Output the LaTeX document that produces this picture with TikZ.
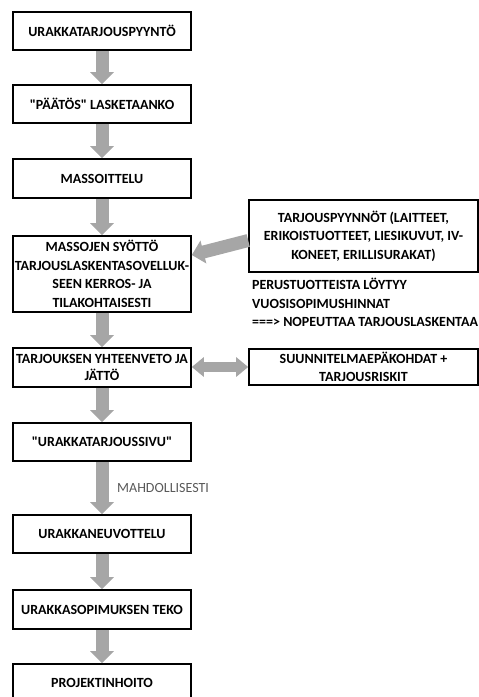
\documentclass[tikz,border=0pt]{standalone}
\usepackage{fontspec}
\setmainfont{Carlito}
\usetikzlibrary{arrows.meta}
\definecolor{arrgray}{RGB}{166,166,166}
\definecolor{txtgray}{RGB}{89,89,89}
\tikzset{
  lbox/.style={draw=black, line width=1.6pt, fill=white, minimum width=178pt, inner sep=0pt, align=center,
    font=\bfseries\fontsize{14}{18.5}\selectfont},
  rbox/.style={lbox, minimum width=229pt},
  flowarrow/.style={draw=arrgray, line width=13pt, -{Triangle[length=12pt,width=23pt]}},
  duoarrow/.style={draw=arrgray, line width=10pt, {Triangle[length=12pt,width=19pt]}-{Triangle[length=12pt,width=19pt]}},
}
\begin{document}
\begin{tikzpicture}[x=1pt,y=-1pt]
\useasboundingbox (0,0) rectangle (479,697);
\node[lbox, minimum height=38pt] (b1) at (102,31) {URAKKATARJOUSPYYNTÖ};
\node[lbox, minimum height=38pt] (b2) at (102,104) {\textquotedbl PÄÄTÖS\textquotedbl{} LASKETAANKO};
\node[lbox, minimum height=39pt] (b3) at (102,178.5) {MASSOITTELU};
\node[lbox, minimum height=76pt] (b4) at (102,274) {MASSOJEN SYÖTTÖ\\TARJOUSLASKENTASOVELLUK-\\SEEN KERROS- JA\\TILAKOHTAISESTI};
\node[lbox, minimum height=39pt, font=\bfseries\fontsize{14}{17.5}\selectfont] (b5) at (102,367.5) {TARJOUKSEN YHTEENVETO JA\\JÄTTÖ};
\node[lbox, minimum height=38pt] (b6) at (102,442) {\textquotedbl URAKKATARJOUSSIVU\textquotedbl};
\node[lbox, minimum height=38pt] (b7) at (102,534) {URAKKANEUVOTTELU};
\node[lbox, minimum height=39pt] (b8) at (102,609.5) {URAKKASOPIMUKSEN TEKO};
\node[lbox, minimum height=38pt] (b9) at (102,683) {PROJEKTINHOITO};
\node[rbox, minimum height=72pt] (r1) at (363.5,236) {TARJOUSPYYNNÖT (LAITTEET,\\ERIKOISTUOTTEET, LIESIKUVUT, IV-\\KONEET, ERILLISURAKAT)};
\node[rbox, minimum height=36pt, font=\bfseries\fontsize{14}{17.5}\selectfont] (r2) at (363.5,367) {SUUNNITELMAEPÄKOHDAT +\\TARJOUSRISKIT};
\node[anchor=north west, inner sep=0pt, align=left, font=\bfseries\fontsize{14}{18.5}\selectfont] (note) at (252,278)
  {PERUSTUOTTEISTA LÖYTYY\\VUOSISOPIMUSHINNAT\\===> NOPEUTTAA TARJOUSLASKENTAA};
\node[anchor=west, inner sep=0pt, text=txtgray, font=\fontsize{14}{16}\selectfont] (mahd) at (117,488) {MAHDOLLISESTI};
\draw[flowarrow] (b1.south) -- (b2.north);
\draw[flowarrow] (b2.south) -- (b3.north);
\draw[flowarrow] (b3.south) -- (b4.north);
\draw[flowarrow] (b4.south) -- (b5.north);
\draw[flowarrow] (b5.south) -- (b6.north);
\draw[flowarrow] (b6.south) -- (b7.north);
\draw[flowarrow] (b7.south) -- (b8.north);
\draw[flowarrow] (b8.south) -- (b9.north);
\draw[flowarrow] ([yshift=-4.5pt]r1.west) -- ([yshift=19pt]b4.east);
\draw[duoarrow] (b5.east |- r2.west) -- (r2.west);
\end{tikzpicture}
\end{document}
